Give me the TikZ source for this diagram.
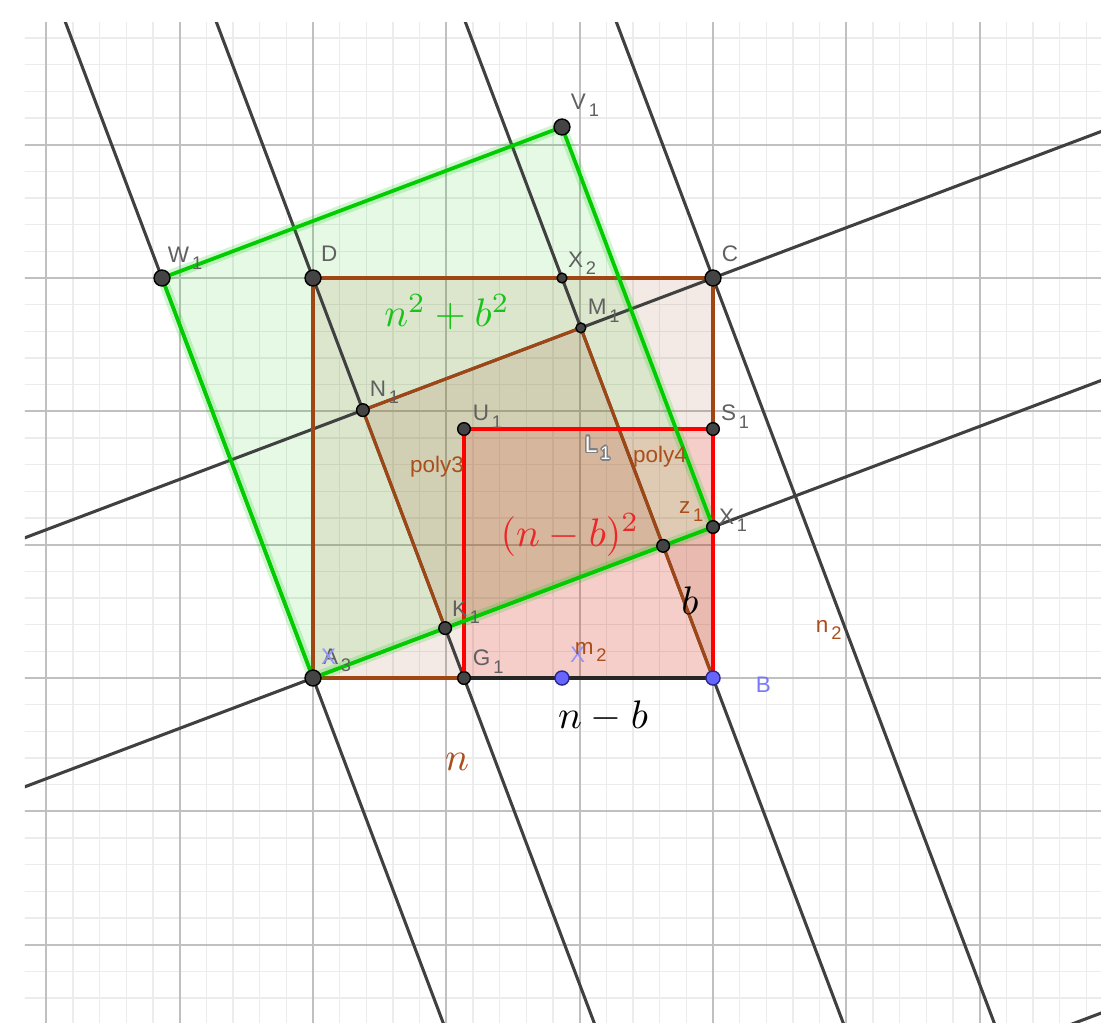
\documentclass[tikz,border=0pt]{standalone}
\usepackage{fontspec}
\newfontfamily\labfont{Liberation Sans}
\usetikzlibrary{positioning,calc}
\definecolor{gridmajor}{RGB}{192,192,192}
\definecolor{gridminor}{RGB}{236,236,236}
\definecolor{linegray}{RGB}{64,64,64}
\definecolor{sqbrown}{RGB}{153,51,0}
\definecolor{edgebrown}{RGB}{160,70,20}
\definecolor{sqgreen}{RGB}{0,204,0}
\definecolor{sqred}{RGB}{255,0,0}
\definecolor{ptfill}{RGB}{68,68,68}
\definecolor{ptblue}{RGB}{102,102,255}
\definecolor{ptblueedge}{RGB}{40,40,140}
\definecolor{labgray}{RGB}{96,96,96}
\definecolor{labblue}{RGB}{120,120,255}
\definecolor{txtbrown}{RGB}{170,78,28}
\definecolor{mgreen}{RGB}{25,195,25}
\definecolor{mred}{RGB}{235,40,40}
\newcommand{\lsub}[1]{\kern0.6pt\raisebox{-1.6pt}[0pt][0pt]{\fontsize{3.9}{4}\selectfont #1}}

\begin{document}
\begin{tikzpicture}[
    gminor/.style={draw=gridminor, line width=0.25pt},
    gmajor/.style={draw=gridmajor, line width=0.4pt},
    fline/.style={draw=linegray, line width=0.65pt},
    bedge/.style={draw=edgebrown, line width=0.65pt, line join=round},
    redge/.style={draw=sqred, line width=0.7pt, line join=round},
    gedge/.style={draw=sqgreen, line width=0.8pt, line join=round},
    gglow/.style={draw=sqgreen, line width=2.2pt, opacity=0.18, line join=round},
    bigpt/.style={circle, fill=ptfill, draw=black, line width=0.3pt, inner sep=0pt, minimum size=3.4pt},
    midpt/.style={bigpt, minimum size=2.7pt},
    smallpt/.style={bigpt, minimum size=2.1pt},
    bluept/.style={bigpt, fill=ptblue, draw=ptblueedge, minimum size=3pt},
    ptlabel/.style={font=\labfont\fontsize{4.8}{5.5}\selectfont, text=labgray, inner sep=0pt},
    seglabel/.style={ptlabel, text=txtbrown},
    mathlabel/.style={inner sep=0pt, scale=0.85}
]
\useasboundingbox (-2.3475,-2.58) rectangle (5.91,5.085);
\fill[white] (-2.3475,-2.58) rectangle (5.91,5.085);

\coordinate (A3) at (0,0);
\coordinate (B) at (3,0);
\coordinate (C) at (3,3);
\coordinate (D) at (0,3);
\coordinate (G1) at (1.1325,0);
\coordinate (U1) at (1.1325,1.8675);
\coordinate (S1) at (3,1.8675);
\coordinate (X1) at (3,1.1325);
\coordinate (V1) at (1.8675,4.1325);
\coordinate (W1) at (-1.1325,3);
\coordinate (X2) at (1.8675,3);
\coordinate (X) at (1.8675,0);
\coordinate (Lc) at (0,1.8675);
\coordinate (Pc) at (4.1325,0);
\coordinate (Q1) at (2,-3.989);
\coordinate (Q2) at (8,-1.724);
\coordinate (L1) at (2.0325,1.695);
\coordinate (N1) at (intersection of Lc--C and D--G1);
\coordinate (M1) at (intersection of Lc--C and B--X2);
\coordinate (K1) at (intersection of A3--X1 and D--G1);
\coordinate (Z1) at (intersection of A3--X1 and B--X2);

\begin{scope}
\clip (-2.16,-2.58) rectangle (5.91,4.92);
\draw[gminor, step=0.2] (-2.4,-2.8) grid (6.2,5.2);
\draw[gmajor, step=1] (-3,-3) grid (6,5);
\fill[sqbrown, fill opacity=0.1] (A3) -- (B) -- (C) -- (D) -- cycle;
\fill[sqgreen, fill opacity=0.1] (A3) -- (X1) -- (V1) -- (W1) -- cycle;
\fill[sqred, fill opacity=0.12] (G1) -- (B) -- (S1) -- (U1) -- cycle;
\fill[sqbrown, fill opacity=0.12] (K1) -- (Z1) -- (M1) -- (N1) -- cycle;
\fill[sqbrown, fill opacity=0.12] (Z1) -- (X1) -- (B) -- cycle;
\draw[fline] ($(A3)!-4!(X1)$) -- ($(A3)!4!(X1)$);
\draw[fline] ($(Lc)!-4!(C)$) -- ($(Lc)!4!(C)$);
\draw[fline] ($(W1)!-4!(A3)$) -- ($(W1)!4!(A3)$);
\draw[fline] ($(D)!-4!(G1)$) -- ($(D)!4!(G1)$);
\draw[fline] ($(X2)!-4!(B)$) -- ($(X2)!4!(B)$);
\draw[fline] ($(C)!-4!(Pc)$) -- ($(C)!4!(Pc)$);
\draw[fline] (Q1) -- (Q2);
\end{scope}

\draw[bedge] (A3) -- (B) -- (C) -- (D) -- cycle;
\draw[bedge] (N1) -- (M1) -- (B);
\draw[bedge] (N1) -- (K1);
\draw[redge] (G1) -- (U1) -- (S1) -- (B);
\draw[draw=black!85, line width=0.65pt] (G1) -- (B);
\draw[gglow] (A3) -- (X1) -- (V1) -- (W1) -- cycle;
\draw[gedge] (A3) -- (X1) -- (V1) -- (W1) -- cycle;

\node[bigpt] (pV1) at (V1) {};
\node[bigpt] (pW1) at (W1) {};
\node[bigpt] (pD) at (D) {};
\node[bigpt] (pC) at (C) {};
\node[bigpt] (pA3) at (A3) {};
\node[smallpt] (pX2) at (X2) {};
\node[smallpt] (pM1) at (M1) {};
\node[midpt] (pN1) at (N1) {};
\node[midpt] (pU1) at (U1) {};
\node[midpt] (pS1) at (S1) {};
\node[midpt] (pZ1) at (Z1) {};
\node[midpt] (pX1) at (X1) {};
\node[midpt] (pK1) at (K1) {};
\node[midpt] (pG1) at (G1) {};
\node[bluept] (pX) at (X) {};
\node[bluept] (pB) at (B) {};

\node[ptlabel, above right=1.28mm and 0.6mm of V1] (labV1) {V\lsub{1}};
\node[ptlabel, above right=1.13mm and 0.38mm of W1] (labW1) {W\lsub{1}};
\node[ptlabel, above right=1.2mm and 0.53mm of D] (labD) {D};
\node[ptlabel, above right=0.75mm and 0.38mm of X2] (labX2) {X\lsub{2}};
\node[ptlabel, above right=1.13mm and 0.6mm of C] (labC) {C};
\node[ptlabel, above right=0.9mm and 0.45mm of M1] (labM1) {M\lsub{1}};
\node[ptlabel, above right=0.98mm and 0.45mm of N1] (labN1) {N\lsub{1}};
\node[ptlabel, above right=0.53mm and 0.6mm of U1] (labU1) {U\lsub{1}};
\node[ptlabel, above right=0.53mm and 0.53mm of S1] (labS1) {S\lsub{1}};
\node[ptlabel, above right=0.15mm and 0.38mm of X1] (labX1) {X\lsub{1}};
\node[ptlabel, above right=0.83mm and 0.45mm of K1] (labK1) {K\lsub{1}};
\node[ptlabel, above right=0.98mm and 0.68mm of A3] (labA3) {A\lsub{3}};
\node[ptlabel, text=labblue!80, above right=0.98mm and 0.53mm of A3] (labXa) {X};
\node[ptlabel, above right=0.83mm and 0.6mm of G1] (labG1) {G\lsub{1}};
\node[ptlabel, text=labblue!80, above right=1.13mm and 0.53mm of X] (labX) {X};
\node[seglabel, above right=1.72mm and 0.9mm of X] (labm2) {m\lsub{2}};
\node[ptlabel, text=labblue, below right=-0.15mm and 3.15mm of B] (labB) {B};
\foreach \ang in {0,45,...,315}
  \node[ptlabel, text=labgray!80, anchor=base west] (labL1\ang) at ([shift={(\ang:0.35pt)}]L1) {L\lsub{1}};
\node[ptlabel, text=white, anchor=base west] (labL1) at (L1) {L\lsub{1}};
\node[seglabel, above right=2.33mm and 1.13mm of Z1] (labz1) {z\lsub{1}};
\node[seglabel, anchor=base west] (labn2) at (3.765,0.345) {n\lsub{2}};
\node[seglabel] (labpoly3) at (0.93,1.5825) {poly3};
\node[seglabel] (labpoly4) at (2.6025,1.6575) {poly4};

\node[mathlabel, text=mgreen] (sumsq) at (1.005,2.745) {$n^2+b^2$};
\node[mathlabel, text=mred] (diffsq) at (1.9275,1.0725) {$(n-b)^2$};
\node[mathlabel] (diff) at (2.175,-0.285) {$n-b$};
\node[mathlabel, text=txtbrown] (side) at (1.08,-0.63) {$n$};
\node[mathlabel] (leg) at (2.8275,0.5775) {$b$};
\end{tikzpicture}
\end{document}
